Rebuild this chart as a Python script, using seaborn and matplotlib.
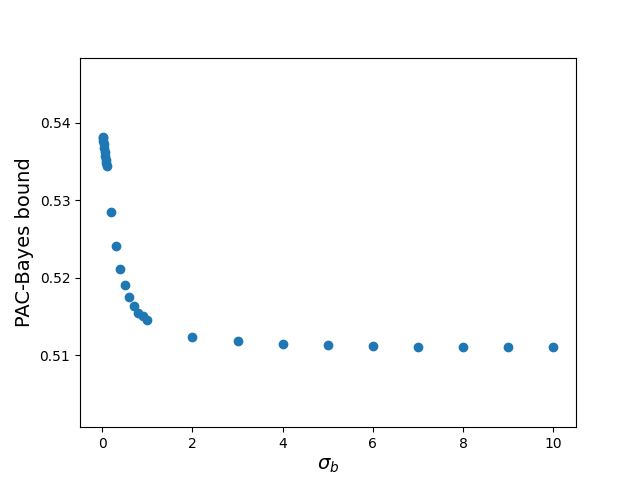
import numpy as np
import pandas as pd
import seaborn as sns
import matplotlib
matplotlib.use("Agg")
import matplotlib.pyplot as plt

# sigma_b values and the PAC-Bayes bound
sigma_b = [0.01, 0.02, 0.03, 0.04, 0.05, 0.06, 0.07, 0.08, 0.09, 0.1,
           0.2, 0.3, 0.4, 0.5, 0.6, 0.7, 0.8, 0.9, 1.0,
           2, 3, 4, 5, 6, 7, 8, 9, 10]
bound = [0.5382, 0.5380, 0.5377, 0.5372, 0.5367, 0.5362, 0.5357, 0.5352, 0.5348, 0.5344,
         0.5285, 0.5241, 0.5211, 0.5190, 0.5175, 0.5163, 0.5155, 0.5150, 0.5145,
         0.5123, 0.5118, 0.5114, 0.5113, 0.5112, 0.5110, 0.5110, 0.5110, 0.5110]

df = pd.DataFrame({"sigma_b": sigma_b, "bound": bound})

fig, ax = plt.subplots(figsize=(6.4, 4.8), dpi=100)
sns.scatterplot(data=df, x="sigma_b", y="bound", ax=ax, s=36,
                linewidth=1, color="#1f77b4", edgecolor="#1f77b4")
ax.set_ylim(min(bound) - 0.0103, max(bound) + 0.0102)
ax.set_xlabel(r"$\sigma_b$", fontsize=14)
ax.set_ylabel("PAC-Bayes bound", fontsize=14)
fig.savefig("out.png")
